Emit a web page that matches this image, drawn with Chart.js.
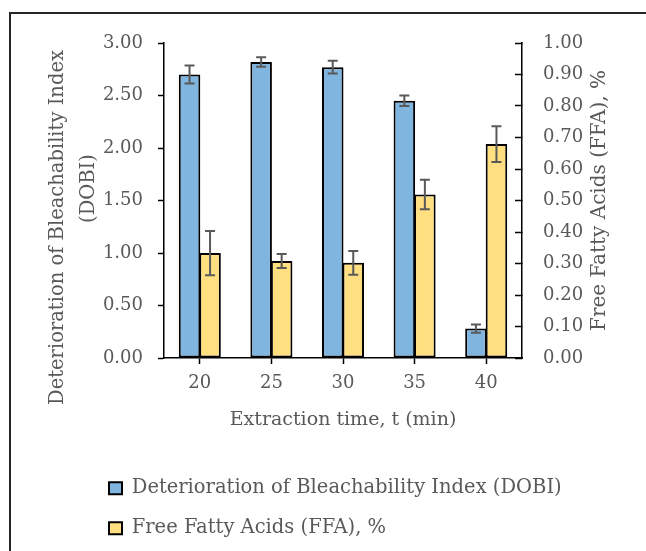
<!DOCTYPE html>
<html><head><meta charset="utf-8">
<script src="https://cdn.jsdelivr.net/npm/chart.js@4"></script>
<style>html,body{margin:0;padding:0;background:#fff;}#c{display:block}</style>
</head><body>
<canvas id="c" width="646" height="551"></canvas>
<script>
const categories = ['20', '25', '30', '35', '40'];
const dobiValues = [2.70, 2.82, 2.77, 2.45, 0.28];
const dobiErrors = [0.085, 0.045, 0.06, 0.05, 0.04];
const ffaValues = [0.333, 0.308, 0.302, 0.519, 0.679];
const ffaErrors = [0.07, 0.022, 0.038, 0.047, 0.057];
const leftAxis = {min: 0, max: 3, step: 0.5};
const rightAxis = {min: 0, max: 1, step: 0.1};
const dobiLabel = 'Deterioration of Bleachability Index (DOBI)';
const ffaLabel = 'Free Fatty Acids (FFA), %';
const xTitle = 'Extraction time, t (min)';
const yLeftTitle = ['Deterioration of Bleachability Index', '(DOBI)'];
const yRightTitle = 'Free Fatty Acids (FFA), %';

const FONT = 'DejaVu Serif';
const TXT = '#595959';

const frame = {
  id: 'frame',
  beforeDraw(chart) {
    const ctx = chart.ctx;
    ctx.save();
    ctx.fillStyle = '#fff';
    ctx.fillRect(0, 0, chart.width, chart.height);
    ctx.strokeStyle = '#262626';
    ctx.lineWidth = 2;
    ctx.strokeRect(10, 13, 700, 600);
    ctx.restore();
  }
};

const errorBars = {
  id: 'errorBars',
  afterDatasetsDraw(chart) {
    const ctx = chart.ctx;
    ctx.save();
    ctx.strokeStyle = '#595959';
    ctx.lineWidth = 2;
    chart.data.datasets.forEach((ds, i) => {
      const meta = chart.getDatasetMeta(i);
      const scale = chart.scales[ds.yAxisID];
      meta.data.forEach((bar, j) => {
        const v = ds.data[j], e = ds.errors[j];
        const yT = scale.getPixelForValue(v + e);
        const yB = scale.getPixelForValue(v - e);
        const x = bar.x;
        ctx.beginPath();
        ctx.moveTo(x, yT); ctx.lineTo(x, yB);
        ctx.moveTo(x - 5, yT); ctx.lineTo(x + 5, yT);
        ctx.moveTo(x - 5, yB); ctx.lineTo(x + 5, yB);
        ctx.stroke();
      });
    });
    ctx.restore();
  }
};

// vertical axis titles, both reading bottom-to-top
const axisTitles = {
  id: 'axisTitles',
  afterDraw(chart) {
    const ctx = chart.ctx;
    const ca = chart.chartArea;
    const mid = (ca.top + ca.bottom) / 2;
    ctx.save();
    ctx.fillStyle = TXT;
    ctx.textAlign = 'center';
    ctx.textBaseline = 'middle';
    ctx.font = '19.5px "' + FONT + '"';
    const lines = [
      {text: yLeftTitle[0], x: 58, y: mid + 27},
      {text: yLeftTitle[1], x: 89, y: mid - 12}
    ];
    lines.forEach(l => {
      ctx.save(); ctx.translate(l.x, l.y); ctx.rotate(-Math.PI / 2);
      ctx.fillText(l.text, 0, 0); ctx.restore();
    });
    ctx.font = '20px "' + FONT + '"';
    ctx.save(); ctx.translate(chart.scales.y1.right - 46, mid); ctx.rotate(-Math.PI / 2);
    ctx.fillText(yRightTitle, 0, 0); ctx.restore();
    ctx.restore();
  }
};

const legendShift = {
  id: 'legendShift',
  afterLayout(chart) {
    if (chart.legend) chart.legend.left = 88.5;
  }
};

new Chart(document.getElementById('c'), {
  type: 'bar',
  data: {
    labels: categories,
    datasets: [
      {label: dobiLabel, data: dobiValues, errors: dobiErrors, yAxisID: 'y',
       backgroundColor: '#80B5DF', borderColor: '#000', borderWidth: 2, borderSkipped: false,
       categoryPercentage: 0.573, barPercentage: 1.05},
      {label: ffaLabel, data: ffaValues, errors: ffaErrors, yAxisID: 'y1',
       backgroundColor: '#FFDF80', borderColor: '#000', borderWidth: 2, borderSkipped: false,
       categoryPercentage: 0.573, barPercentage: 1.05}
    ]
  },
  options: {
    responsive: false,
    animation: false,
    devicePixelRatio: 1,
    layout: {padding: {top: 43, left: 0, right: 0, bottom: 3}},
    plugins: {
      tooltip: {enabled: false},
      legend: {
        position: 'bottom', align: 'start',
        labels: {font: {family: FONT, size: 19.5}, color: TXT, boxWidth: 13, boxHeight: 12, padding: 20.5}
      }
    },
    scales: {
      x: {
        offset: true,
        grid: {display: true, drawOnChartArea: false, offset: false, tickLength: 6, color: '#000', tickWidth: 1.5},
        border: {display: true, color: '#000', width: 1.5},
        ticks: {font: {family: FONT, size: 18}, color: TXT, padding: 9},
        title: {display: true, text: xTitle, font: {family: FONT, size: 19}, color: TXT, padding: {top: 0, bottom: 27}},
        afterFit(s) { s.height = 100; }
      },
      y: {
        position: 'left', min: leftAxis.min, max: leftAxis.max,
        grid: {display: true, drawOnChartArea: false, tickLength: 6, color: '#000', tickWidth: 1.5},
        border: {display: true, color: '#000', width: 1.5},
        ticks: {stepSize: leftAxis.step, font: {family: FONT, size: 18}, color: TXT, padding: 15,
                callback: v => Number(v).toFixed(2)},
        title: {display: false},
        afterFit(s) { s.width = 164; }
      },
      y1: {
        position: 'right', min: rightAxis.min, max: rightAxis.max,
        grid: {display: true, drawOnChartArea: false, tickLength: -7, color: '#000', tickWidth: 1.5},
        border: {display: true, color: '#000', width: 1.5},
        ticks: {stepSize: rightAxis.step, font: {family: FONT, size: 18}, color: TXT, padding: 28,
                callback: v => Number(v).toFixed(2)},
        title: {display: false},
        afterFit(s) { s.width = 124; }
      }
    }
  },
  plugins: [frame, errorBars, axisTitles, legendShift]
});
</script>
</body></html>
